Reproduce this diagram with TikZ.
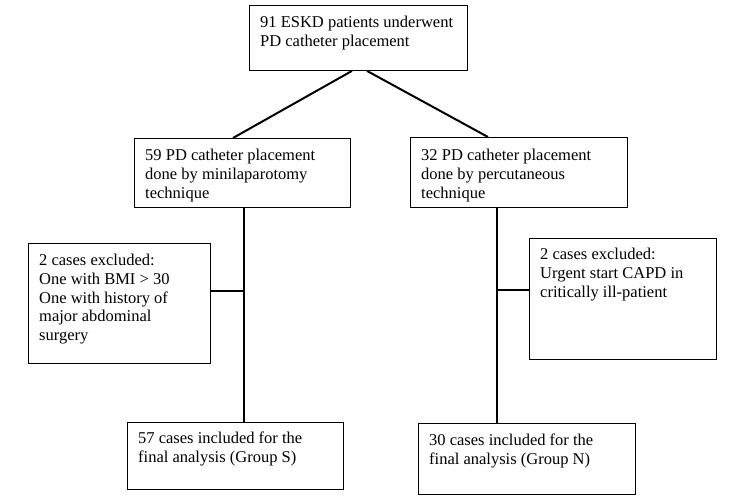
\documentclass[tikz,border=0pt]{standalone}
\usepackage{fontspec}
\setmainfont{Liberation Serif}
\usetikzlibrary{calc}
\tikzset{
  box/.style={draw=black, line width=0.9pt, anchor=north west, inner sep=0pt, fill=white},
  txt/.style={anchor=north west, inner sep=0pt, align=left, font=\fontsize{16.5}{18.7}\selectfont},
  conn/.style={draw=black, line width=2pt}
}
\begin{document}
\begin{tikzpicture}[x=1pt,y=-1pt]
\useasboundingbox (0,0) rectangle (750,499);
% boxes
\node[box, minimum width=218pt, minimum height=65pt] (top) at (249,5) {};
\node[box, minimum width=216pt, minimum height=69pt] (lm) at (134,138) {};
\node[box, minimum width=217pt, minimum height=70pt] (rm) at (410,137) {};
\node[box, minimum width=182pt, minimum height=120pt] (le) at (28,243) {};
\node[box, minimum width=187pt, minimum height=121pt] (re) at (529,238) {};
\node[box, minimum width=216pt, minimum height=67pt] (lb) at (127,422) {};
\node[box, minimum width=217pt, minimum height=71pt] (rb) at (418,423) {};
% texts
\node[txt] (ttop) at (260,16) {91 ESKD patients underwent\\PD catheter placement};
\node[txt] (tlm) at (145,149) {59 PD catheter placement\\done by minilaparotomy\\technique};
\node[txt] (trm) at (421,149) {32 PD catheter placement\\done by percutaneous\\technique};
\node[txt] (tle) at (39,254) {2 cases excluded:\\One with BMI > 30\\One with history of\\major abdominal\\surgery};
\node[txt] (tre) at (540,248) {2 cases excluded:\\Urgent start CAPD in\\critically ill-patient};
\node[txt] (tlb) at (138,432) {57 cases included for the\\final analysis (Group S)};
\node[txt] (trb) at (429,434) {30 cases included for the\\final analysis (Group N)};
% connector points
\coordinate (t1) at ($(top.south west)+(103,0)$);
\coordinate (t2) at ($(top.south west)+(118,0)$);
\coordinate (l1) at ($(lm.north west)+(99,0)$);
\coordinate (r1) at ($(rm.north west)+(78,0)$);
\coordinate (lv1) at ($(lm.south west)+(110,0)$);
\coordinate (lv2) at ($(lb.north west)+(117,0)$);
\coordinate (lj) at (244,291);
\coordinate (rv1) at ($(rm.south west)+(87,0)$);
\coordinate (rv2) at ($(rb.north west)+(79,0)$);
\coordinate (rj) at (497,290);
\draw[conn] (t1) -- (l1);
\draw[conn] (t2) -- (r1);
\draw[conn] (lv1) -- (lv2);
\draw[conn] (rv1) -- (rv2);
\draw[conn] (le.east |- lj) -- (lj);
\draw[conn] (rj) -- (re.west |- rj);
\end{tikzpicture}
\end{document}
